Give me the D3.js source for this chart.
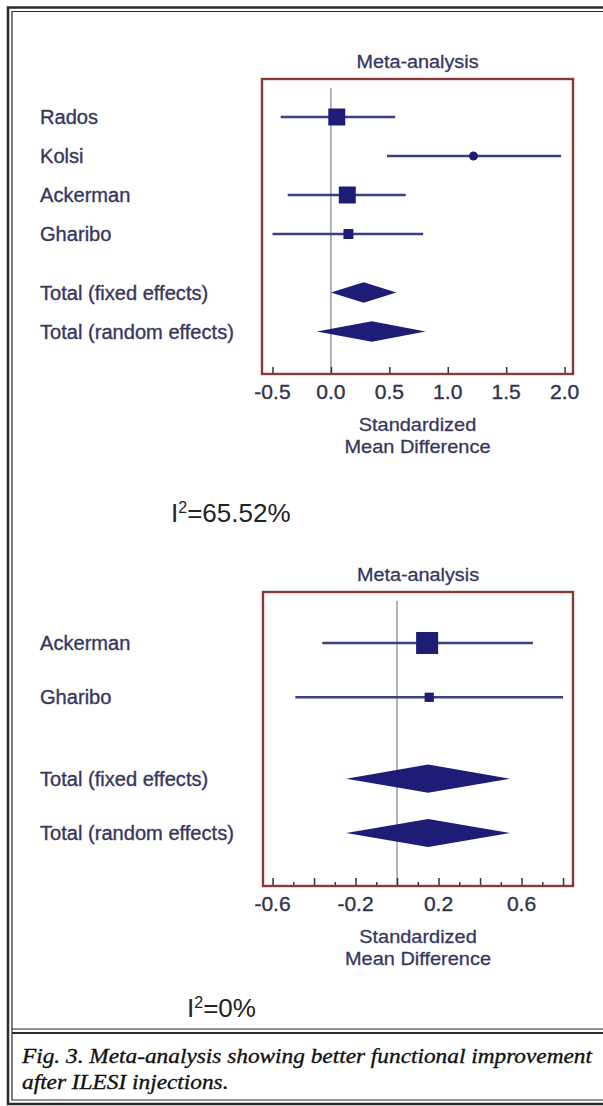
<!DOCTYPE html>
<html><head><meta charset="utf-8">
<script src="https://cdn.jsdelivr.net/npm/d3@7"></script>
<style>html,body{margin:0;padding:0;background:#fff;}svg{display:block;}</style>
</head><body>
<script>
// ---- Panel 1 data ----
const studies1 = ["Rados", "Kolsi", "Ackerman", "Gharibo"];
const est1 = [0.05, 1.22, 0.14, 0.15];
const lo1 = [-0.43, 0.48, -0.37, -0.50];
const hi1 = [0.55, 1.97, 0.64, 0.79];
const weight1 = [35, 8, 35, 12];
const totals1 = ["Total (fixed effects)", "Total (random effects)"];
const totEst1 = [0.28, 0.35];
const totLo1 = [0.00, -0.12];
const totHi1 = [0.56, 0.81];
const ticks1 = [-0.5, 0.0, 0.5, 1.0, 1.5, 2.0];
const tickLabels1 = ["-0.5", "0.0", "0.5", "1.0", "1.5", "2.0"];
const minor1 = [];
const i2Text1 = "=65.52%";

// ---- Panel 2 data ----
const studies2 = ["Ackerman", "Gharibo"];
const est2 = [0.145, 0.155];
const lo2 = [-0.36, -0.49];
const hi2 = [0.655, 0.80];
const weight2 = [85, 15];
const totals2 = ["Total (fixed effects)", "Total (random effects)"];
const totEst2 = [0.15, 0.15];
const totLo2 = [-0.245, -0.245];
const totHi2 = [0.545, 0.545];
const ticks2 = [-0.6, -0.4, -0.2, 0.0, 0.2, 0.4, 0.6, 0.8];
const tickLabels2 = ["-0.6", "", "-0.2", "", "0.2", "", "0.6", ""];
const minor2 = [-0.5, -0.3, -0.1, 0.1, 0.3, 0.5, 0.7];
const i2Text2 = "=0%";

const title = "Meta-analysis";
const xTitle = ["Standardized", "Mean Difference"];
const caption = ["Fig. 3. Meta-analysis showing better functional improvement", "after ILESI injections."];

const W = 603, H = 1106;
const svg = d3.select("body").append("svg").attr("width", W).attr("height", H);

const SANS = "'Liberation Sans', Arial, sans-serif";
const LABEL = "#37375e";
const NAVY = "#1d1d78";
const WHISK = "#3c3f86";
const FRAME = "#8a3a36";

function stretch(sel, f) {
  sel.each(function () {
    const n = this.getComputedTextLength();
    d3.select(this).attr("textLength", n * f).attr("lengthAdjust", "spacingAndGlyphs");
  });
  return sel;
}
function heavy(sel, c, w) {
  return sel.attr("stroke", c).attr("stroke-width", w).attr("stroke-linejoin", "round");
}

// outer frame
const fr = svg.append("g").attr("fill", "none").attr("stroke", "#2a2a2a");
fr.append("path").attr("d", `M${W + 5},7.5 H8 V1104 H${W + 5}`).attr("stroke-width", 2.5);
fr.append("path").attr("d", `M${W + 5},11.5 H12 V1100 H${W + 5}`).attr("stroke-width", 1.2);
fr.append("line").attr("x1", 12).attr("x2", W + 5).attr("y1", 1029).attr("y2", 1029).attr("stroke-width", 1.2);
fr.append("line").attr("x1", 12).attr("x2", W + 5).attr("y1", 1033).attr("y2", 1033).attr("stroke-width", 2);

function panel(cfg) {
  const g = svg.append("g");
  const x = d3.scaleLinear().domain(cfg.xDomain).range([cfg.box.x0, cfg.box.x1]);
  const nS = cfg.studies.length;
  const rows = cfg.studies.map((s, i) => ({ name: s, pos: i }))
    .concat(cfg.totals.map((s, j) => ({ name: s, pos: nS + 0.5 + j })));
  const y = d3.scaleLinear().domain([0, nS + 0.5 + cfg.totals.length - 1]).range(cfg.yRange);
  const step = y(1) - y(0);

  // title
  g.append("text").attr("x", (cfg.box.x0 + cfg.box.x1) / 2).attr("y", cfg.box.y0 - 11)
    .attr("text-anchor", "middle").attr("font-family", SANS).attr("font-size", 18)
    .attr("fill", LABEL).text(title).call(heavy, LABEL, 0.3).call(stretch, 1.1);

  // zero line
  g.append("line").attr("x1", x(0)).attr("x2", x(0)).attr("y1", cfg.box.y0 + 9).attr("y2", cfg.box.y1)
    .attr("stroke", "#808080").attr("stroke-width", 1.2);

  // row labels
  g.selectAll("text.row").data(rows).join("text").attr("class", "row")
    .attr("x", 40).attr("y", d => y(d.pos) + 7)
    .attr("font-family", SANS).attr("font-size", 19.5).attr("fill", LABEL)
    .text(d => d.name).call(heavy, LABEL, 0.35).call(stretch, 1.03);

  // whiskers
  g.selectAll("line.ci").data(cfg.studies).join("line").attr("class", "ci")
    .attr("x1", (d, i) => x(cfg.lo[i])).attr("x2", (d, i) => x(cfg.hi[i]))
    .attr("y1", (d, i) => y(i)).attr("y2", (d, i) => y(i))
    .attr("stroke", WHISK).attr("stroke-width", 2.4);

  // markers
  cfg.studies.forEach((s, i) => {
    const side = cfg.k * Math.sqrt(cfg.weight[i]);
    if (side < 9) {
      g.append("circle").attr("cx", x(cfg.est[i])).attr("cy", y(i)).attr("r", side / 2 + 0.4).attr("fill", NAVY);
    } else {
      g.append("rect").attr("x", x(cfg.est[i]) - side / 2).attr("y", y(i) - side / 2)
        .attr("width", side).attr("height", side).attr("fill", NAVY);
    }
  });

  // diamonds
  const hh = step * 0.26;
  cfg.totals.forEach((t, j) => {
    const cy = y(nS + 0.5 + j);
    const pts = [[x(cfg.totLo[j]), cy], [x(cfg.totEst[j]), cy - hh], [x(cfg.totHi[j]), cy], [x(cfg.totEst[j]), cy + hh]];
    g.append("path").attr("d", d3.line()(pts) + "Z").attr("fill", NAVY);
  });

  // box
  g.append("rect").attr("x", cfg.box.x0).attr("y", cfg.box.y0)
    .attr("width", cfg.box.x1 - cfg.box.x0).attr("height", cfg.box.y1 - cfg.box.y0)
    .attr("fill", "none").attr("stroke", FRAME).attr("stroke-width", 2.4);

  // ticks (drawn upward from bottom axis)
  const axis = d3.axisTop(x).tickValues(cfg.ticks).tickSize(cfg.tickLen).tickFormat("");
  const ag = g.append("g").attr("transform", `translate(0,${cfg.box.y1 - 1})`).call(axis);
  ag.select(".domain").remove();
  ag.selectAll(".tick line").attr("stroke", "#333").attr("stroke-width", 1.5);
  if (cfg.minor.length) {
    const am = d3.axisTop(x).tickValues(cfg.minor).tickSize(3).tickFormat("");
    const mg = g.append("g").attr("transform", `translate(0,${cfg.box.y1 - 1})`).call(am);
    mg.select(".domain").remove();
    mg.selectAll(".tick line").attr("stroke", "#333").attr("stroke-width", 1.5);
  }
  // tick labels
  g.selectAll("text.tl").data(cfg.ticks.map((v, i) => ({ v, l: cfg.tickLabels[i] })).filter(d => d.l))
    .join("text").attr("class", "tl")
    .attr("x", d => x(d.v)).attr("y", cfg.box.y1 + 25).attr("text-anchor", "middle")
    .attr("font-family", SANS).attr("font-size", 19.5).attr("fill", "#34344a")
    .text(d => d.l).call(heavy, "#34344a", 0.35).call(stretch, 1.08);

  // axis title
  xTitle.forEach((t, i) => {
    g.append("text").attr("x", (cfg.box.x0 + cfg.box.x1) / 2).attr("y", cfg.box.y1 + 57 + i * 22)
      .attr("text-anchor", "middle").attr("font-family", SANS).attr("font-size", 19)
      .attr("fill", LABEL).text(t).call(heavy, LABEL, 0.3).call(stretch, 1.05);
  });

  // I^2
  const it = g.append("text").attr("x", cfg.i2x).attr("y", cfg.i2y)
    .attr("font-family", SANS).attr("font-size", 26).attr("fill", "#222");
  it.append("tspan").text("I");
  it.append("tspan").attr("dy", -9).attr("font-size", 16).text("2");
  it.append("tspan").attr("dy", 9).text(cfg.i2);
}

panel({
  studies: studies1, est: est1, lo: lo1, hi: hi1, weight: weight1, k: 2.87,
  totals: totals1, totEst: totEst1, totLo: totLo1, totHi: totHi1,
  ticks: ticks1, tickLabels: tickLabels1, minor: minor1, tickLen: 6,
  xDomain: [-0.59, 2.072], box: { x0: 262, x1: 573, y0: 79, y1: 374 }, yRange: [117, 331.5],
  i2: i2Text1, i2x: 171, i2y: 522
});
panel({
  studies: studies2, est: est2, lo: lo2, hi: hi2, weight: weight2, k: 2.39,
  totals: totals2, totEst: totEst2, totLo: totLo2, totHi: totHi2,
  ticks: ticks2, tickLabels: tickLabels2, minor: minor2, tickLen: 7,
  xDomain: [-0.646, 0.848], box: { x0: 263, x1: 573, y0: 592, y1: 886 }, yRange: [643, 833],
  i2: i2Text2, i2x: 187, i2y: 1017
});

// caption
const cap = svg.append("g").attr("font-family", "'Liberation Serif', 'Times New Roman', serif")
  .attr("font-style", "italic").attr("font-size", 21).attr("fill", "#111")
  .attr("stroke", "#111").attr("stroke-width", 0.35);
const c1 = cap.append("text").attr("x", 22).attr("y", 1063).text(caption[0]);
const f = 570 / c1.node().getComputedTextLength();
c1.call(stretch, f);
cap.append("text").attr("x", 22).attr("y", 1089).text(caption[1]).call(stretch, f);
</script>
</body></html>
